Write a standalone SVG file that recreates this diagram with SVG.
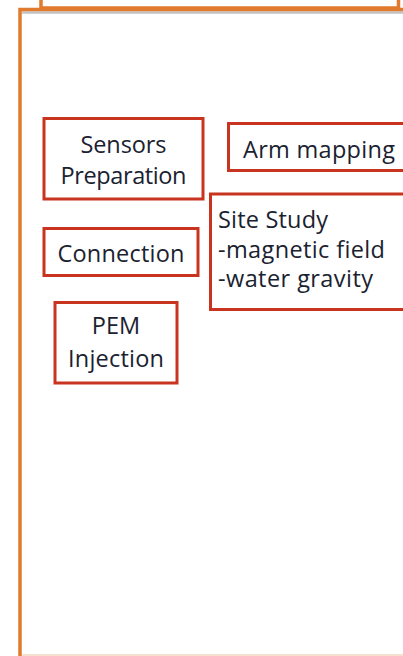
<svg xmlns="http://www.w3.org/2000/svg" width="403" height="656" viewBox="0 0 403 656">
<style>
.frame{fill:none;stroke:#E07A2C;stroke-width:3.5}
.node{fill:#fff;stroke:#C8341F;stroke-width:3}
.t{font-family:"Open Sans","Liberation Sans",sans-serif;font-size:23.5px;fill:#1A2230;font-variant-ligatures:none}
.c{text-anchor:middle}
</style>
<rect width="403" height="656" fill="#fff"/>
<g id="frames">
<line x1="22" y1="12.5" x2="403" y2="12.5" stroke="#9a9a9a" stroke-width="2.5" opacity="0.6"/>
<path class="frame" d="M41 0 V8 H398.5 V0"/>
<path class="frame" d="M20 656 V9.5 H403"/>
<line x1="22" y1="655" x2="403" y2="655" stroke="#F3D6C2" stroke-width="1.5"/>
</g>
<g id="connectors"></g>
<g id="sensors">
<rect class="node" x="44" y="118.5" width="159" height="80.5"/>
<text class="t c" x="123.5" y="153" textLength="86">Sensors</text>
<text class="t c" x="123.5" y="184" textLength="126">Preparation</text>
</g>
<g id="arm">
<rect class="node" x="228.5" y="123.5" width="185" height="47"/>
<text class="t" x="243" y="158" textLength="152">Arm mapping</text>
</g>
<g id="site">
<rect class="node" x="210.5" y="194" width="200" height="115.5"/>
<text class="t" x="218" y="228" textLength="110">Site Study</text>
<text class="t" x="218" y="258" textLength="167">-magnetic field</text>
<text class="t" x="218" y="287" textLength="155">-water gravity</text>
</g>
<g id="connection">
<rect class="node" x="44" y="228.5" width="154" height="47"/>
<text class="t c" x="121" y="262" textLength="127">Connection</text>
</g>
<g id="pem">
<rect class="node" x="55" y="302.5" width="122" height="80.5"/>
<text class="t c" x="116" y="334">PEM</text>
<text class="t c" x="116" y="367" textLength="96">Injection</text>
</g>
</svg>
